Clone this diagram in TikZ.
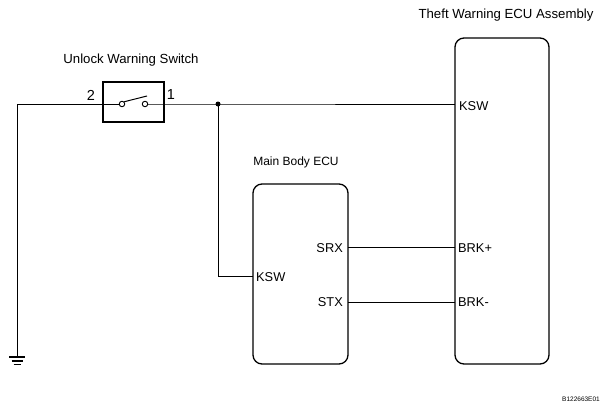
\documentclass[tikz,border=0pt]{standalone}
\usepackage{fontspec}
\setmainfont{Liberation Sans}
\begin{document}
\begin{tikzpicture}[x=1pt,y=-1pt,
  wire/.style={line width=1pt},
  ecu/.style={draw,line width=1.3pt,rounded corners=9pt},
  lbl/.style={font=\fontsize{13.2}{15}\selectfont,inner sep=0pt},
  pin/.style={font=\fontsize{12.8}{14}\selectfont,inner sep=0pt},
  num/.style={font=\fontsize{14.5}{16}\selectfont,inner sep=0pt},
  contact/.style={circle,draw,line width=0.9pt,fill=white,minimum size=5.5pt,inner sep=0pt}]
\useasboundingbox (0,0) rectangle (608,410);
% boxes
\draw[ecu] (455,38) rectangle (549,364);
\draw[ecu] (253,184) rectangle (348,364);
\draw[line width=1.3pt] (103,82) rectangle (164,122);
% titles
\node[lbl] (ttl1) at (506,15) {Theft Warning ECU Assembly};
\node[lbl,font=\fontsize{12}{14}\selectfont] (ttl2) at (296,162) {Main Body ECU};
\node[lbl] (ttl3) at (131,60) {Unlock Warning Switch};
\node[font=\fontsize{6.5}{7}\selectfont,inner sep=0pt] (code) at (581,399) {B122663E01};
% pins
\coordinate (tksw) at (455,104);
\coordinate (brkp) at (455,247);
\coordinate (brkm) at (455,302);
\coordinate (srx) at (348,247);
\coordinate (stx) at (348,302);
\coordinate (mksw) at (253,276);
\node[pin,anchor=west] at (459,106) {KSW};
\node[pin,anchor=west] at (458,248) {BRK+};
\node[pin,anchor=west] at (458,302) {BRK-};
\node[pin,anchor=east] at (343,248) {SRX};
\node[pin,anchor=east] at (343,302) {STX};
\node[pin,anchor=west] at (256,277) {KSW};
% switch
\node[contact] (c2) at (122,104) {};
\node[contact] (c1) at (145,104) {};
\coordinate (blade) at (147,96);
\draw[line width=1pt] (c2.north east) -- (blade);
\node[num] at (91,95) {2};
\node[num] at (171,95) {1};
% junction and ground
\coordinate (j) at (218,104);
\coordinate (gtop) at (17,104);
\coordinate (gnd) at (17,357);
\fill (j) circle (2.5pt);
% wires
\draw[wire] (c2.west) -- (gtop) -- (gnd);
\draw[wire] (c1.east) -- (j) -- (tksw);
\draw[wire] (j) |- (mksw);
\draw[wire] (srx) -- (brkp);
\draw[wire] (stx) -- (brkm);
% ground symbol
\draw[line width=1.4pt] (9,357) -- (25,357);
\draw[line width=1.2pt] (11.5,361) -- (22.5,361);
\draw[line width=1.1pt] (13.5,364.5) -- (20.5,364.5);
\end{tikzpicture}
\end{document}
